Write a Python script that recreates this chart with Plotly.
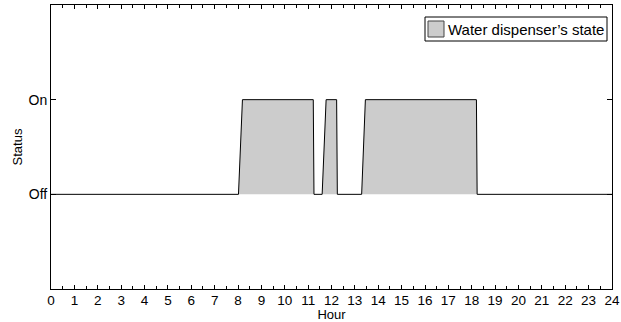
import plotly.graph_objects as go

hours = [0, 8.02, 8.19, 11.22, 11.25, 11.6, 11.77, 12.22, 12.25, 13.29, 13.45, 18.2, 18.23, 24]
status = [0, 0, 1, 1, 0, 0, 1, 1, 0, 0, 1, 1, 0, 0]
x_ticks = list(range(0, 25))
y_ticks = [0, 1]
y_labels = ["Off", "On"]
series_name = "Water dispenser’s state"

FILL = "#cccccc"

fig = go.Figure()
fig.add_trace(go.Scatter(
    x=hours, y=status, mode="lines", fill="tozeroy",
    fillcolor=FILL, line=dict(color="black", width=1),
    name=series_name, showlegend=False,
))

# legend box drawn in paper coordinates (plot area: x 51..612 px, y 5..289 px)
def px_x(p):
    return (p - 51) / 561.0

def px_y(p):
    return (289 - p) / 284.0

fig.add_shape(type="rect", xref="paper", yref="paper",
              x0=px_x(425), x1=px_x(607), y0=px_y(41), y1=px_y(17),
              line=dict(color="black", width=1), fillcolor="white", layer="above")
fig.add_shape(type="rect", xref="paper", yref="paper",
              x0=px_x(428), x1=px_x(444), y0=px_y(37), y1=px_y(21),
              line=dict(color="#444444", width=1), fillcolor=FILL, layer="above")
fig.add_annotation(xref="paper", yref="paper", x=px_x(446), y=px_y(29),
                   xanchor="left", yanchor="middle", showarrow=False,
                   text=series_name, font=dict(size=15, color="black"))

fig.update_layout(
    width=621, height=322,
    margin=dict(l=51, r=9, t=5, b=33, pad=0),
    plot_bgcolor="white", paper_bgcolor="white",
    font=dict(family="Liberation Sans, Arial, sans-serif", size=14, color="black"),
    showlegend=False,
    xaxis=dict(range=[0, 24], tickvals=x_ticks, ticks="inside", ticklen=4,
               tickcolor="black", showline=True, linecolor="black", linewidth=1,
               mirror="ticks", showgrid=False, zeroline=False, automargin=False,
               tickfont=dict(size=13.5), ticklabelstandoff=-1,
               minor=dict(dtick=0.5, ticks="inside", ticklen=3, tickcolor="black"),
               title=dict(text="Hour", font=dict(size=13), standoff=0)),
    yaxis=dict(range=[-1, 2], tickvals=y_ticks, ticktext=y_labels, ticks="inside",
               ticklen=5, tickcolor="black", showline=True, linecolor="black",
               linewidth=1, mirror="ticks", showgrid=False, zeroline=False,
               automargin=False, tickfont=dict(size=14),
               title=dict(text="Status", font=dict(size=13), standoff=2)),
)

fig.write_html("out.html", config={"displayModeBar": False},
               post_script="document.body.style.margin='0';document.body.style.padding='0';")
